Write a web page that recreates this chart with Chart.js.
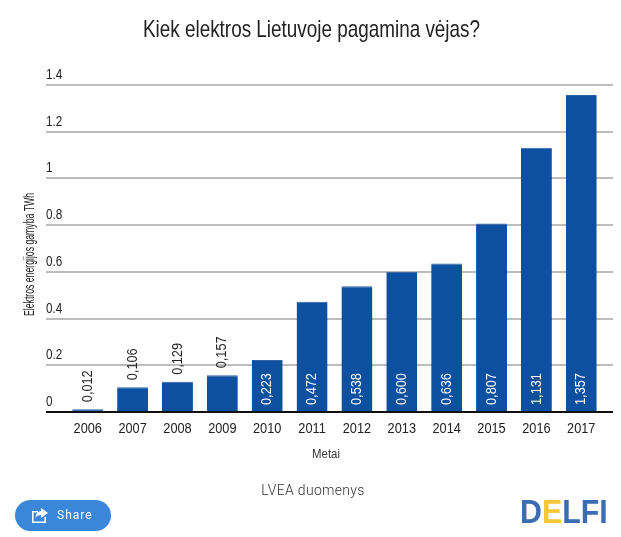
<!DOCTYPE html>
<html>
<head>
<meta charset="utf-8">
<script src="https://cdn.jsdelivr.net/npm/chart.js@4"></script>
<style>
html, body { margin: 0; padding: 0; background: #fff; }
#wrap { position: relative; width: 621px; height: 537px; overflow: hidden; }
canvas { position: absolute; left: 0; top: 0; }
#source { position: absolute; left: 46px; width: 534px; top: 482px; text-align: center; font: 300 14px Roboto, sans-serif; letter-spacing: 0.3px; color: #333; }
#share { position: absolute; left: 15px; top: 500px; width: 96px; height: 31px; border-radius: 16px; background: #3a87d9; color: #fff; font: 12px Roboto, sans-serif; letter-spacing: 1px; line-height: 31px; }
#share span { position: absolute; left: 42px; top: 0; }
#share svg { position: absolute; left: 16px; top: 7px; }
#logo { position: absolute; left: 520px; top: 494px; font: bold 33px "Liberation Sans", sans-serif; color: #3a6db3; line-height: 36px; transform: scaleX(0.92); transform-origin: left top; }
#logo b { color: #f6c737; }
</style>
</head>
<body>
<div id="wrap">
  <canvas id="myChart" width="621" height="537"></canvas>
  <div id="source">LVEA duomenys</div>
  <div id="share">
    <svg width="18" height="16" viewBox="0 0 18 16"><path d="M1 4h6v1.6H2.6v8.8h10.8V10H15v6H1z M10 1l7 5-7 5V8C7.5 8 5.5 9 4.5 11 4.5 7 7 4.3 10 4z" fill="#fff"/></svg>
    <span>Share</span>
  </div>
  <div id="logo">D<b>E</b>LFI</div>
</div>
<script>
const years = ['2006', '2007', '2008', '2009', '2010', '2011', '2012', '2013', '2014', '2015', '2016', '2017'];
const gamyba = [0.012, 0.106, 0.129, 0.157, 0.223, 0.472, 0.538, 0.600, 0.636, 0.807, 1.131, 1.357];
const barLabels = ['0,012', '0,106', '0,129', '0,157', '0,223', '0,472', '0,538', '0,600', '0,636', '0,807', '1,131', '1,357'];

// no narrow font installed, so text is squeezed horizontally
function text(ctx, str, x, y, o) {
    ctx.save();
    ctx.translate(x, y);
    if (o.rot) ctx.rotate(o.rot);
    ctx.scale(o.sx, 1);
    ctx.font = o.size + 'px "Liberation Sans", sans-serif';
    ctx.fillStyle = o.color;
    ctx.textBaseline = 'middle';
    ctx.textAlign = o.align || 'center';
    ctx.fillText(str, 0, 0);
    ctx.restore();
}

const up = -Math.PI / 2;

const drawPlugin = {
    id: 'drawPlugin',
    // gridlines run wider than the bars, y labels sit on top of them
    beforeDatasetsDraw(chart) {
        const ctx = chart.ctx;
        const y = chart.scales.y;
        const x = chart.scales.x;
        y.ticks.forEach(t => {
            const py = Math.round(y.getPixelForValue(t.value));
            if (t.value !== 0) {
                ctx.fillStyle = '#a6a6a6';
                ctx.fillRect(46, py - 0.75, 567, 1.5);
            }
            text(ctx, t.label, 46, py - 10, { size: 15, sx: 0.78, color: '#222', align: 'left' });
        });
        years.forEach((yr, i) => {
            text(ctx, yr, x.getPixelForValue(i), 429, { size: 15, sx: 0.85, color: '#222' });
        });
        text(ctx, 'Kiek elektros Lietuvoje pagamina vėjas?', 311.5, 30, { size: 24, sx: 0.787, color: '#222' });
        text(ctx, 'Elektros energijos gamyba TWh', 30, 316, { size: 14, sx: 0.62, color: '#222', rot: up, align: 'left' });
        text(ctx, 'Metai', 326, 455, { size: 12, sx: 0.95, color: '#333' });
    },
    afterDatasetsDraw(chart) {
        const ctx = chart.ctx;
        const y = chart.scales.y;
        ctx.fillStyle = '#111';
        ctx.fillRect(46, y.getPixelForValue(0) - 1, 567, 2);
        chart.getDatasetMeta(0).data.forEach((bar, i) => {
            const inside = gamyba[i] > 0.2;
            const py = inside ? y.getPixelForValue(0) - 7 : bar.y - 7;
            text(ctx, barLabels[i], bar.x, py, { size: 15, sx: 0.85, color: inside ? '#fff' : '#222', rot: up, align: 'left' });
        });
    }
};

new Chart(document.getElementById('myChart'), {
    type: 'bar',
    data: {
        labels: years,
        datasets: [{
            data: gamyba,
            backgroundColor: '#0e50a0',
            borderColor: '#2a63ab',
            borderWidth: { top: 1, left: 0, right: 0, bottom: 0 },
            barPercentage: 0.69,
            categoryPercentage: 1
        }]
    },
    options: {
        responsive: false,
        animation: false,
        layout: { padding: { left: 65.3, right: 17.3, top: 85, bottom: 117 } },
        plugins: {
            legend: { display: false },
            tooltip: { enabled: false }
        },
        scales: {
            x: {
                grid: { display: false },
                border: { display: false },
                ticks: { display: false }
            },
            y: {
                display: false,
                min: 0,
                max: 1.4,
                ticks: { stepSize: 0.2, callback: v => String(+v.toFixed(1)) }
            }
        }
    },
    plugins: [drawPlugin]
});
</script>
</body>
</html>
